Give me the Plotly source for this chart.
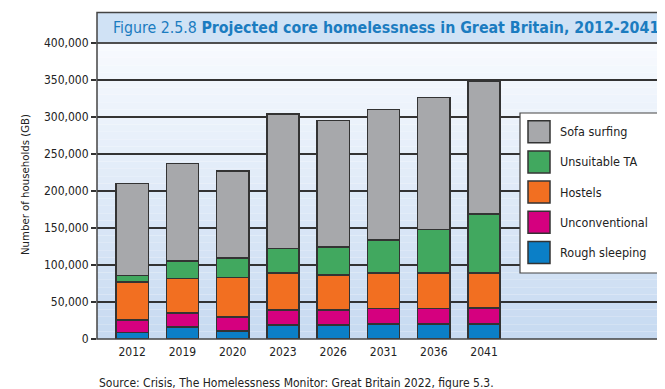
import plotly.graph_objects as go

# ---- data ----
years = ["2012", "2019", "2020", "2023", "2026", "2031", "2036", "2041"]
rough_sleeping = [9000, 16000, 11000, 19000, 19000, 20500, 20500, 20500]
unconventional = [17000, 19000, 19000, 20400, 20400, 20400, 20400, 21700]
hostels = [51000, 46700, 53400, 49700, 47000, 48300, 48300, 47000]
unsuitable_ta = [9100, 23900, 26300, 33200, 38100, 44500, 59000, 79800]
sofa_surfing = [124000, 131400, 117300, 181700, 170500, 176600, 178000, 179800]
series_names = ["Rough sleeping", "Unconventional", "Hostels", "Unsuitable TA", "Sofa surfing"]
y_ticks = [0, 50000, 100000, 150000, 200000, 250000, 300000, 350000, 400000]
title_text = "Figure 2.5.8 <b>Projected core homelessness in Great Britain, 2012-2041</b>"
source_text = "Source: Crisis, The Homelessness Monitor: Great Britain 2022, figure 5.3."
y_title = "Number of households (GB)"

colors = ["#0b7fc7", "#d5007f", "#f26f21", "#41a85f", "#a7a8ab"]
values = [rough_sleeping, unconventional, hostels, unsuitable_ta, sofa_surfing]

FONT = "DejaVu Sans Condensed, sans-serif"

# the page body adds an 8px offset; work in reference-pixel coords and shift
OFF = 8
W, H = 665 - OFF, 389 - OFF
L, R, T, B = 97 - OFF, 1, 43 - OFF, 50
PW = W - L - R
PH = H - T - B


def xp(px):
    return (px - OFF - L) / PW


def yp(py):
    return (H - B - (py - OFF)) / PH


fig = go.Figure()
for name, vals, col in zip(series_names, values, colors):
    fig.add_trace(go.Bar(
        x=years, y=vals, name=name,
        marker=dict(color=col, line=dict(color="#333333", width=1.5)),
        showlegend=False,
    ))

shapes = []
n = 40
c0 = (247, 250, 254)
c1 = (199, 218, 241)
for i in range(n):
    t = i / (n - 1)
    c = tuple(int(round(c0[k] + (c1[k] - c0[k]) * t)) for k in range(3))
    shapes.append(dict(type="rect", xref="paper", yref="paper",
                       x0=0, x1=1, y0=1 - (i + 1) / n, y1=1 - i / n,
                       fillcolor="rgb(%d,%d,%d)" % c, line=dict(width=0),
                       layer="below"))
shapes.append(dict(type="rect", xref="paper", yref="paper",
                   x0=0, x1=1, y0=1, y1=yp(12.5),
                   fillcolor="#d0e2f5", line=dict(color="#444444", width=1.5),
                   layer="above"))
shapes.append(dict(type="rect", xref="paper", yref="paper",
                   x0=0, x1=1, y0=0, y1=1,
                   fillcolor="rgba(0,0,0,0)", line=dict(color="#444444", width=1.5),
                   layer="above"))
shapes.append(dict(type="rect", xref="paper", yref="paper",
                   x0=xp(520), x1=xp(658), y0=yp(273), y1=yp(113),
                   fillcolor="white", line=dict(color="#444444", width=1.2),
                   layer="above"))

annotations = []
legend_order = list(range(len(series_names)))[::-1]
for j, idx in enumerate(legend_order):
    cy = 131.7 + j * 30.2
    shapes.append(dict(type="rect", xref="paper", yref="paper",
                       x0=xp(528), x1=xp(550), y0=yp(cy + 11), y1=yp(cy - 11),
                       fillcolor=colors[idx], line=dict(color="#333333", width=1.5),
                       layer="above"))
    annotations.append(dict(x=xp(558), y=yp(cy), xref="paper", yref="paper",
                            text=series_names[idx], showarrow=False,
                            xanchor="left", yanchor="middle",
                            font=dict(family=FONT, size=12.5, color="#222222")))

annotations.append(dict(x=xp(111), y=yp(27.5), xref="paper", yref="paper",
                        text=title_text, showarrow=False, xanchor="left", yanchor="middle",
                        font=dict(family=FONT, size=15.8, color="#1b7cc0")))
annotations.append(dict(x=xp(97), y=yp(383), xref="paper", yref="paper",
                        text=source_text, showarrow=False, xanchor="left", yanchor="middle",
                        font=dict(family=FONT, size=12, color="#222222")))
annotations.append(dict(x=xp(25), y=yp(185), xref="paper", yref="paper",
                        text=y_title, showarrow=False, textangle=-90,
                        xanchor="center", yanchor="middle",
                        font=dict(family=FONT, size=11.3, color="#222222")))

fig.update_layout(
    width=W, height=H,
    margin=dict(l=L, r=R, t=T, b=B, pad=0),
    barmode="stack", bargap=0.36,
    paper_bgcolor="white", plot_bgcolor="rgba(0,0,0,0)",
    shapes=shapes, annotations=annotations,
    font=dict(family=FONT, size=12, color="#222222"),
    xaxis=dict(type="category", range=[-0.7, 10.58], showgrid=False,
               ticks="", showline=False, tickfont=dict(family=FONT, size=12, color="#222222"),
               ticklabelstandoff=4),
    yaxis=dict(range=[0, 400000], tickvals=y_ticks, tickformat=",",
               showgrid=True, gridcolor="#333333", gridwidth=1.5,
               zeroline=False, ticks="outside", ticklen=5, tickcolor="#333333",
               tickwidth=1.5, showline=False,
               tickfont=dict(family=FONT, size=12, color="#222222")),
)

fig.write_html("out.html")
